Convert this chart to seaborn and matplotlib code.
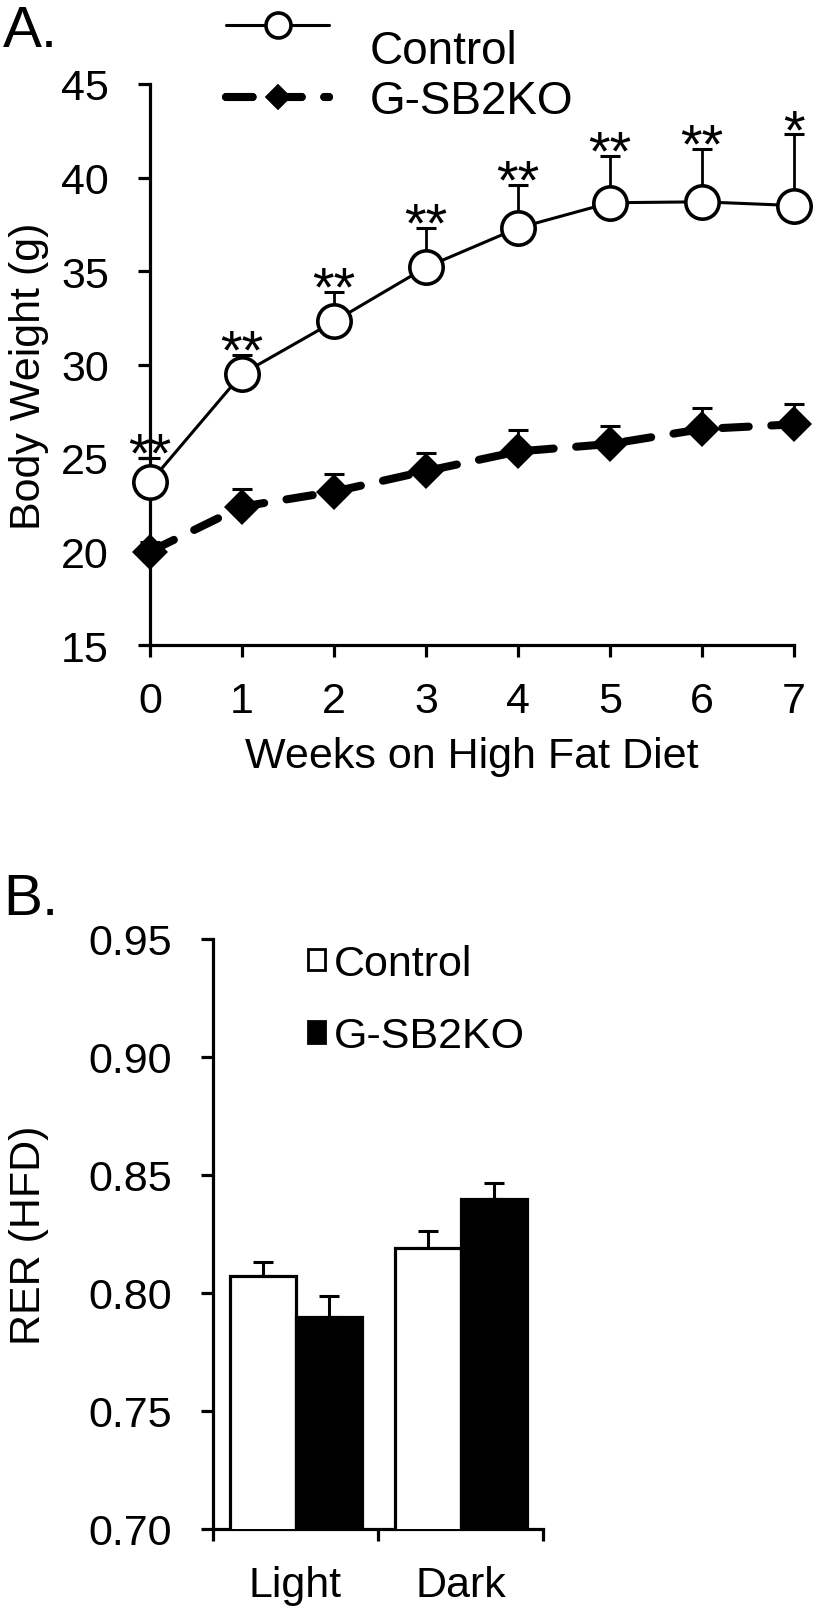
import numpy as np
import pandas as pd
import matplotlib
matplotlib.use('Agg')
import matplotlib.pyplot as plt
from matplotlib.ticker import FormatStrFormatter
from matplotlib.patches import Patch
import seaborn as sns

# ---- data: panel A, body weight over HFD ----
weeks = [0, 1, 2, 3, 4, 5, 6, 7]
ctrl_weight = [23.7, 29.5, 32.3, 35.2, 37.3, 38.65, 38.7, 38.5]
ctrl_sem = [1.3, 1.0, 1.6, 2.1, 2.3, 2.5, 2.85, 3.8]
ko_weight = [20.0, 22.4, 23.2, 24.3, 25.35, 25.75, 26.55, 26.8]
ko_sem = [0.5, 0.95, 0.95, 0.95, 1.15, 0.95, 1.1, 1.1]
stars = ['**', '**', '**', '**', '**', '**', '**', '*']
weight_ticks = [15, 20, 25, 30, 35, 40, 45]

# ---- data: panel B, RER ----
phases = ['Light', 'Dark']
groups = ['Control', 'G-SB2KO']
rer_ctrl = [0.807, 0.819]
rer_ko = [0.790, 0.840]
rer_ctrl_sem = [0.006, 0.0072]
rer_ko_sem = [0.0087, 0.0067]
rer_ticks = [0.70, 0.75, 0.80, 0.85, 0.90, 0.95]

sns.set_theme(style='ticks')
plt.rcParams['font.family'] = ['Liberation Sans', 'DejaVu Sans']
plt.rcParams.update({'text.color': 'black', 'axes.labelcolor': 'black',
                     'xtick.color': 'black', 'ytick.color': 'black',
                     'axes.edgecolor': 'black', 'axes.linewidth': 2.3})
FS = 31
TICK_LEN = 8.6

W, H = 814, 1615
fig = plt.figure(figsize=(W / 100, H / 100), dpi=100)

# ---------------- panel A ----------------
axA = fig.add_axes([150 / W, 1 - 646 / H, 644 / W, 561 / H])
axA.errorbar(weeks, ctrl_weight, yerr=[np.zeros(len(weeks)), ctrl_sem], fmt='none',
             ecolor='black', elinewidth=2, capsize=7, capthick=2.2, clip_on=False, zorder=2)
axA.errorbar(weeks, ko_weight, yerr=[np.zeros(len(weeks)), ko_sem], fmt='none',
             ecolor='black', elinewidth=2, capsize=7, capthick=2.2, clip_on=False, zorder=2)
sns.lineplot(x=weeks, y=ctrl_weight, ax=axA, color='black', linewidth=2.2,
             marker='o', markersize=24, markerfacecolor='white',
             markeredgecolor='black', markeredgewidth=2.6, clip_on=False, zorder=3)
ctrl_line = axA.lines[-1]
sns.lineplot(x=weeks, y=ko_weight, ax=axA, color='black', linewidth=5.8,
             marker='D', markersize=18, markerfacecolor='black',
             markeredgecolor='black', markeredgewidth=0, clip_on=False, zorder=3)
ko_line = axA.lines[-1]
ko_line.set_linestyle((0, (3.3, 2.8)))
ko_line.set_dash_capstyle('round')

for x, m, s, t in zip(weeks, ctrl_weight, ctrl_sem, stars):
    axA.annotate(t, (x, m + s), xytext=(0, -9), textcoords='offset points',
                 ha='center', va='baseline', fontsize=40, annotation_clip=False)

axA.set_xlim(0, 7)
axA.set_ylim(15, 45)
axA.set_xticks(weeks)
axA.set_yticks(weight_ticks)
axA.tick_params(axis='both', labelsize=FS, width=2.3, length=TICK_LEN)
axA.tick_params(axis='y', pad=21)
axA.tick_params(axis='x', pad=17)
axA.set_xlabel('Weeks on High Fat Diet', fontsize=FS)
axA.set_ylabel('Body Weight (g)', fontsize=FS)
axA.xaxis.set_label_coords(0.5, -0.162)
axA.yaxis.set_label_coords(-0.157, 0.48)
sns.despine(ax=axA)

for h, yy in [(ctrl_line, 30), (ko_line, 102)]:
    leg = axA.legend([h], [''], loc='center left', bbox_to_anchor=(226 / W, 1 - yy / H),
                     bbox_transform=fig.transFigure, frameon=False, fontsize=FS,
                     handlelength=2.4, handletextpad=0, borderpad=0, borderaxespad=0,
                     markerscale=0.75)
    axA.add_artist(leg)
fig.text(370 / W, 1 - 52 / H, groups[0], fontsize=33, va='center', ha='left')
fig.text(370 / W, 1 - 102 / H, groups[1], fontsize=33, va='center', ha='left')

# ---------------- panel B ----------------
axB = fig.add_axes([213 / W, 1 - 1530 / H, 330 / W, 590 / H])
df = pd.DataFrame({
    'phase': phases * 2,
    'group': [groups[0]] * 2 + [groups[1]] * 2,
    'rer': rer_ctrl + rer_ko,
})
sns.barplot(data=df, x='phase', y='rer', hue='group', order=phases, hue_order=groups,
            palette=['white', 'black'], edgecolor='black', linewidth=2.3,
            width=0.8, errorbar=None, legend=False, ax=axB, zorder=3)
for cont, sems in zip(axB.containers, [rer_ctrl_sem, rer_ko_sem]):
    for bar, s in zip(cont, sems):
        xc = bar.get_x() + bar.get_width() / 2
        axB.errorbar(xc, bar.get_height(), yerr=[[0], [s]], fmt='none', ecolor='black',
                     elinewidth=2.2, capsize=7, capthick=2.2, zorder=2)

axB.set_xlim(-0.5, 1.5)
axB.set_ylim(0.70, 0.95)
axB.set_yticks(rer_ticks)
axB.yaxis.set_major_formatter(FormatStrFormatter('%.2f'))
axB.set_xticks([0, 1])
axB.set_xticklabels(phases)
axB.set_xticks([-0.5, 0.5, 1.5], minor=True)
axB.tick_params(axis='x', which='major', length=0, pad=TICK_LEN + 17, labelsize=FS)
axB.tick_params(axis='x', which='minor', length=TICK_LEN, width=2.3)
axB.tick_params(axis='y', labelsize=FS, width=2.3, length=TICK_LEN, pad=21)
axB.set_xlabel('')
axB.set_ylabel('RER (HFD)', fontsize=FS)
axB.yaxis.set_label_coords(-0.497, 0.5)
sns.despine(ax=axB)

handles = [Patch(facecolor='white', edgecolor='black', linewidth=2),
           Patch(facecolor='black', edgecolor='black', linewidth=2)]
axB.legend(handles, groups, loc='upper left', bbox_to_anchor=(308 / W, 1 - 945 / H),
           bbox_transform=fig.transFigure, frameon=False, fontsize=FS,
           handlelength=0.4, handleheight=0.4, handletextpad=0.2, borderpad=0,
           borderaxespad=0, labelspacing=0.75)

fig.text(3 / W, 1 - 32 / H, 'A.', fontsize=42, va='center', ha='left')
fig.text(3 / W, 1 - 900 / H, 'B.', fontsize=42, va='center', ha='left')

fig.savefig('out.png', dpi=100)
